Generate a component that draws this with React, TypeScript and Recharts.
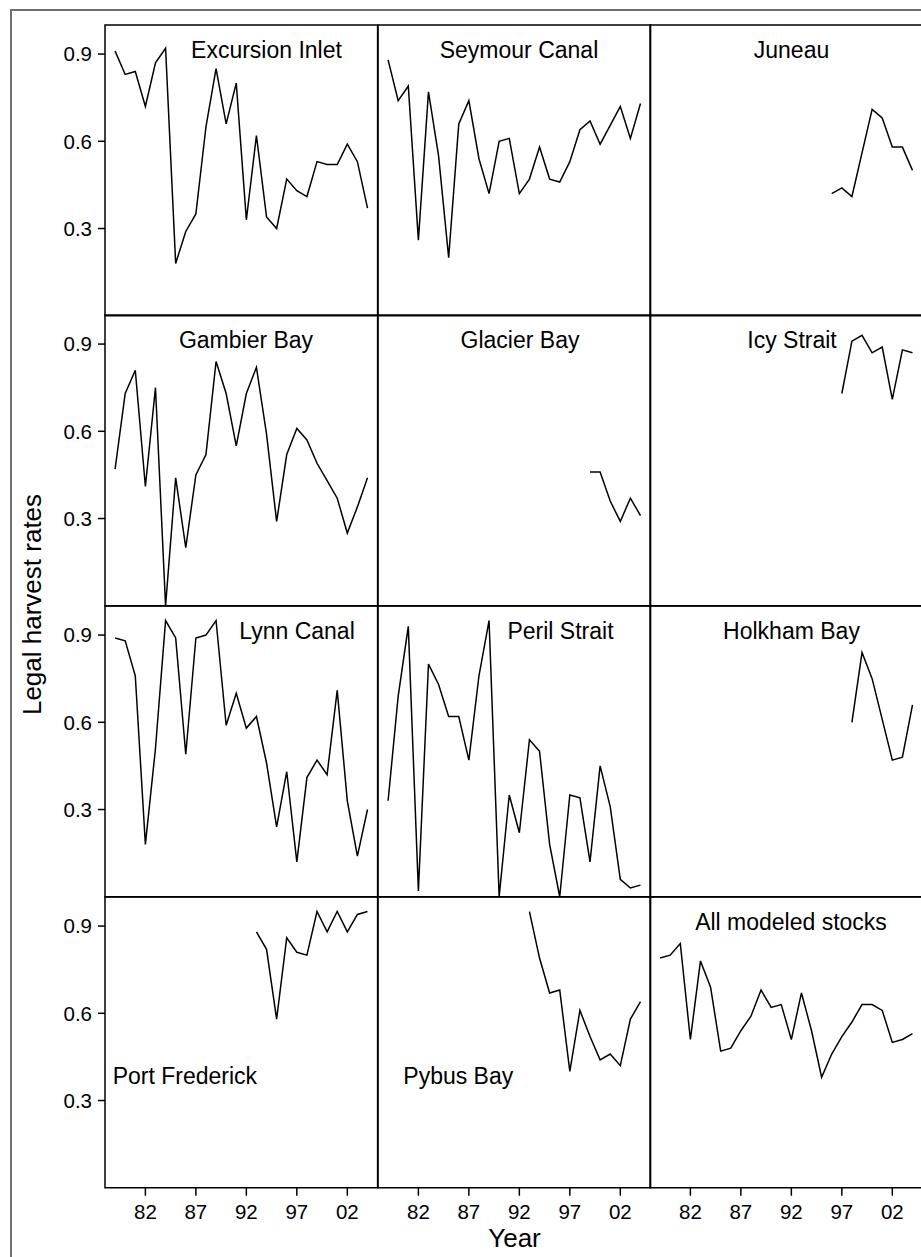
import { LineChart, Line, XAxis, YAxis, ReferenceArea } from 'recharts';

// years 1979-2004
const years = [
  1979, 1980, 1981, 1982, 1983, 1984, 1985, 1986, 1987, 1988, 1989, 1990, 1991,
  1992, 1993, 1994, 1995, 1996, 1997, 1998, 1999, 2000, 2001, 2002, 2003, 2004,
];

const xTicks = [1982, 1987, 1992, 1997, 2002];
const yTicks = [0.3, 0.6, 0.9];

const excursionInlet = [0.91, 0.83, 0.84, 0.72, 0.87, 0.92, 0.18, 0.29, 0.35, 0.65, 0.85, 0.66, 0.8, 0.33, 0.62, 0.34, 0.3, 0.47, 0.43, 0.41, 0.53, 0.52, 0.52, 0.59, 0.53, 0.37];
const seymourCanal = [0.88, 0.74, 0.79, 0.26, 0.77, 0.55, 0.2, 0.66, 0.74, 0.54, 0.42, 0.6, 0.61, 0.42, 0.47, 0.58, 0.47, 0.46, 0.53, 0.64, 0.67, 0.59, 0.655, 0.72, 0.61, 0.73];
const juneau = [null, null, null, null, null, null, null, null, null, null, null, null, null, null, null, null, null, 0.42, 0.44, 0.41, 0.56, 0.71, 0.68, 0.58, 0.58, 0.5];
const gambierBay = [0.47, 0.73, 0.81, 0.41, 0.75, 0.0, 0.44, 0.2, 0.45, 0.52, 0.84, 0.73, 0.55, 0.73, 0.82, 0.59, 0.29, 0.52, 0.61, 0.57, 0.49, 0.43, 0.37, 0.25, 0.34, 0.44];
const glacierBay = [null, null, null, null, null, null, null, null, null, null, null, null, null, null, null, null, null, null, null, null, 0.46, 0.46, 0.36, 0.29, 0.37, 0.31];
const icyStrait = [null, null, null, null, null, null, null, null, null, null, null, null, null, null, null, null, null, null, 0.73, 0.91, 0.93, 0.87, 0.89, 0.71, 0.88, 0.87];
const lynnCanal = [0.89, 0.88, 0.76, 0.18, 0.51, 0.95, 0.89, 0.49, 0.89, 0.9, 0.95, 0.59, 0.7, 0.58, 0.62, 0.46, 0.24, 0.43, 0.12, 0.41, 0.47, 0.42, 0.71, 0.33, 0.14, 0.3];
const perilStrait = [0.33, 0.69, 0.93, 0.02, 0.8, 0.73, 0.62, 0.62, 0.47, 0.76, 0.95, 0.0, 0.35, 0.22, 0.54, 0.5, 0.18, 0.0, 0.35, 0.34, 0.12, 0.45, 0.31, 0.06, 0.03, 0.04];
const holkhamBay = [null, null, null, null, null, null, null, null, null, null, null, null, null, null, null, null, null, null, null, 0.6, 0.84, 0.75, 0.61, 0.47, 0.48, 0.66];
const portFrederick = [null, null, null, null, null, null, null, null, null, null, null, null, null, null, 0.88, 0.82, 0.58, 0.86, 0.81, 0.8, 0.95, 0.88, 0.95, 0.88, 0.94, 0.95];
const pybusBay = [null, null, null, null, null, null, null, null, null, null, null, null, null, null, 0.95, 0.79, 0.67, 0.68, 0.4, 0.61, 0.52, 0.44, 0.46, 0.42, 0.58, 0.64];
const allModeled = [0.79, 0.8, 0.84, 0.51, 0.78, 0.69, 0.47, 0.48, 0.54, 0.59, 0.68, 0.62, 0.63, 0.51, 0.67, 0.54, 0.38, 0.46, 0.52, 0.57, 0.63, 0.63, 0.61, 0.5, 0.51, 0.53];

const panels = [
  { name: 'Excursion Inlet', values: excursionInlet, tx: 266.5, anchor: 'middle' },
  { name: 'Seymour Canal', values: seymourCanal, tx: 519, anchor: 'middle' },
  { name: 'Juneau', values: juneau, tx: 791.5, anchor: 'middle' },
  { name: 'Gambier Bay', values: gambierBay, tx: 246, anchor: 'middle' },
  { name: 'Glacier Bay', values: glacierBay, tx: 520, anchor: 'middle' },
  { name: 'Icy Strait', values: icyStrait, tx: 792, anchor: 'middle' },
  { name: 'Lynn Canal', values: lynnCanal, tx: 297, anchor: 'middle' },
  { name: 'Peril Strait', values: perilStrait, tx: 560.5, anchor: 'middle' },
  { name: 'Holkham Bay', values: holkhamBay, tx: 791.5, anchor: 'middle' },
  { name: 'Port Frederick', values: portFrederick, tx: 112.7, anchor: 'start', low: true },
  { name: 'Pybus Bay', values: pybusBay, tx: 403.3, anchor: 'start', low: true },
  { name: 'All modeled stocks', values: allModeled, tx: 791, anchor: 'middle' },
];

const FONT = "Arial, 'Liberation Sans', sans-serif";
const LEFT = 105;
const TOP = 24.7;
const CW = 272.6;
const RH = 290.75;
const PAD = 2;

function Panel({ index }: { index: number }) {
  const p = panels[index];
  const r = Math.floor(index / 3);
  const c = index % 3;
  const x0 = LEFT + c * CW;
  const y0 = TOP + r * RH;
  const yW = c === 0 ? 70 : 0;
  const xH = r === 3 ? 50 : 0;
  const data = years.map((year, i) => ({ year, v: p.values[i] }));

  return (
    <div style={{ position: 'absolute', left: x0 - yW - PAD, top: y0 - PAD }}>
      <LineChart
        width={yW + CW + 2 * PAD}
        height={RH + xH + 2 * PAD}
        data={data}
        margin={{ top: PAD, right: PAD, bottom: PAD, left: PAD }}
      >
        <XAxis
          dataKey="year"
          type="number"
          domain={[1978, 2005]}
          ticks={xTicks}
          allowDataOverflow
          hide={r !== 3}
          height={xH}
          axisLine={false}
          tickLine={{ stroke: '#000', strokeWidth: 1.5 }}
          tickSize={8}
          tickMargin={9}
          tick={{ fill: '#000', fontSize: 20.5, fontFamily: FONT }}
          tickFormatter={(v) => String(v % 100).padStart(2, '0')}
        />
        <YAxis
          type="number"
          domain={[0, 1]}
          ticks={yTicks}
          allowDataOverflow
          hide={c !== 0}
          width={yW}
          axisLine={false}
          tickLine={{ stroke: '#000', strokeWidth: 1.5 }}
          tickSize={7}
          tickMargin={6}
          tick={{ fill: '#000', fontSize: 20.5, fontFamily: FONT }}
          tickFormatter={(v) => v.toFixed(1)}
        />
        <ReferenceArea
          x1={1978}
          x2={2005}
          y1={0}
          y2={1}
          fill="none"
          stroke="#000"
          strokeWidth={1.5}
          ifOverflow="visible"
        />
        <Line
          type="linear"
          dataKey="v"
          stroke="#000"
          strokeWidth={1.5}
          dot={false}
          activeDot={false}
          connectNulls={false}
          isAnimationActive={false}
        />
      </LineChart>
    </div>
  );
}

export default function App() {
  return (
    <div
      style={{
        position: 'absolute',
        left: 0,
        top: 0,
        width: 921,
        height: 1257,
        overflow: 'hidden',
        background: '#fff',
        fontFamily: FONT,
      }}
    >
      <div
        style={{
          position: 'absolute',
          left: 10,
          top: 9,
          width: 940,
          height: 1280,
          border: '2px solid #707070',
        }}
      />
      {panels.map((_, i) => (
        <Panel key={i} index={i} />
      ))}
      <svg
        width={921}
        height={1257}
        style={{ position: 'absolute', left: 0, top: 0, pointerEvents: 'none' }}
      >
        {panels.map((p, i) => {
          const r = Math.floor(i / 3);
          const y = p.low ? TOP + r * RH + 186.6 : TOP + r * RH + 32.8;
          return (
            <text
              key={p.name}
              x={p.tx}
              y={y}
              textAnchor={p.anchor as 'middle' | 'start'}
              fontSize={23}
              fontFamily={FONT}
              fill="#000"
            >
              {p.name}
            </text>
          );
        })}
        <text x={514.5} y={1246.7} textAnchor="middle" fontSize={26} fontFamily={FONT} fill="#000">
          Year
        </text>
        <text
          transform="translate(40.5, 604.5) rotate(-90)"
          textAnchor="middle"
          fontSize={26}
          fontFamily={FONT}
          fill="#000"
        >
          Legal harvest rates
        </text>
      </svg>
    </div>
  );
}
